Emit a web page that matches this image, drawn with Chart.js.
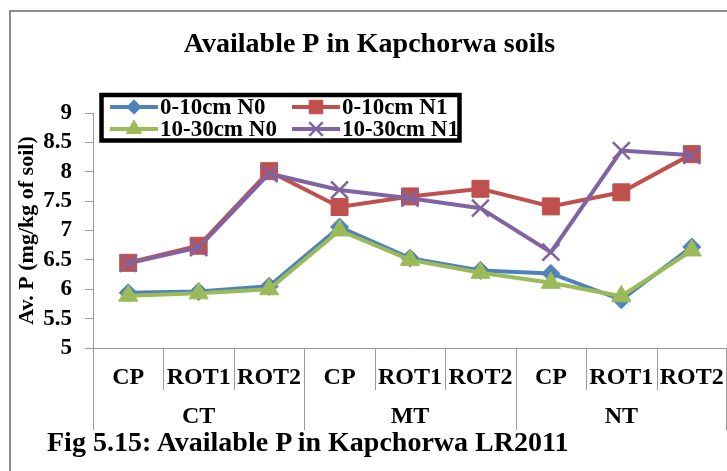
<!DOCTYPE html>
<html>
<head>
<meta charset="utf-8">
<script src="https://cdn.jsdelivr.net/npm/chart.js@4.4.0/dist/chart.umd.min.js"></script>
<style>
  html, body { margin: 0; padding: 0; background: #fff; }
  #wrap { position: relative; width: 727px; height: 471px; overflow: hidden; }
  #frameTop { position: absolute; left: 9px; top: 10px; width: 718px; height: 2px; background: #8c8c8c; }
  #frameLeft { position: absolute; left: 9px; top: 10px; width: 2px; height: 461px; background: #8c8c8c; }
  #caption { position: absolute; left: 47px; top: 428px; font: bold 28px 'Liberation Serif', 'Times New Roman', serif; line-height: 27px; color: #000; white-space: nowrap; }
</style>
</head>
<body>
<div id="wrap">
  <canvas id="myChart" width="727" height="471"></canvas>
  <div id="frameTop"></div>
  <div id="frameLeft"></div>
  <div id="caption">Fig 5.15: Available P in Kapchorwa LR2011</div>
</div>
<script>
// categories (crop system) and their tillage groups
const categories = ['CP', 'ROT1', 'ROT2', 'CP', 'ROT1', 'ROT2', 'CP', 'ROT1', 'ROT2'];
const tillage = ['CT', 'MT', 'NT'];

// Av. P values
const top0N0 = [5.94, 5.96, 6.05, 7.06, 6.53, 6.32, 6.27, 5.82, 6.72];   // 0-10cm N0
const top0N1 = [6.45, 6.74, 8.01, 7.40, 7.58, 7.71, 7.41, 7.65, 8.30];   // 0-10cm N1
const sub10N0 = [5.89, 5.93, 6.00, 7.00, 6.50, 6.28, 6.11, 5.88, 6.66];  // 10-30cm N0
const sub10N1 = [6.44, 6.71, 7.97, 7.69, 7.55, 7.38, 6.63, 8.36, 8.28];  // 10-30cm N1

const yMin = 5;
const yMax = 9;
const yStep = 0.5;

const FONT = "'Liberation Serif', 'Times New Roman', serif";
const AXIS_GREY = '#9a9a9a';

// legend (2 columns, thick black frame) + multi-level category separators
const extrasPlugin = {
  id: 'extras',
  afterDraw(chart) {
    const { ctx, chartArea, scales: { x } } = chart;
    const band = (chartArea.right - chartArea.left) / categories.length;
    const bottom = chartArea.bottom;

    ctx.save();
    ctx.strokeStyle = AXIS_GREY;
    ctx.lineWidth = 1;
    for (let i = 0; i <= categories.length; i++) {
      let px = i < categories.length ? x.getPixelForValue(i) - band / 2 : chartArea.right;
      px = Math.min(Math.round(px) + 0.5, chartArea.right - 0.5);
      const isGroupEdge = i % 3 === 0;
      ctx.beginPath();
      ctx.moveTo(px, bottom);
      ctx.lineTo(px, bottom + (isGroupEdge ? 82 : 42));
      ctx.stroke();
    }

    ctx.fillStyle = '#000';
    ctx.font = 'bold 24px ' + FONT;
    ctx.textAlign = 'center';
    ctx.textBaseline = 'middle';
    tillage.forEach((g, gi) => {
      const cx = (x.getPixelForValue(gi * 3) + x.getPixelForValue(gi * 3 + 2)) / 2;
      ctx.fillText(g, cx, bottom + 69);
    });

    // legend
    ctx.lineWidth = 4.5;
    ctx.strokeStyle = '#000';
    ctx.strokeRect(101.5, 95, 358, 45.5);

    const cols = [110, 292];
    const rows = [107, 129];
    chart.data.datasets.forEach((ds, i) => {
      const lx = cols[i % 2];
      const ly = rows[Math.floor(i / 2)];
      ctx.strokeStyle = ds.borderColor;
      ctx.lineWidth = ds.borderWidth;
      ctx.beginPath();
      ctx.moveTo(lx, ly);
      ctx.lineTo(lx + 48, ly);
      ctx.stroke();
      ctx.fillStyle = ds.pointBackgroundColor;
      ctx.strokeStyle = ds.pointBorderColor;
      ctx.lineWidth = ds.pointBorderWidth;
      Chart.helpers.drawPoint(ctx, {
        pointStyle: ds.pointStyle,
        radius: ds.pointRadius * 0.8,
        borderWidth: ds.pointBorderWidth,
        rotation: 0
      }, lx + 24, ly);
      ctx.fillStyle = '#000';
      ctx.font = 'bold 23px ' + FONT;
      ctx.textAlign = 'left';
      ctx.textBaseline = 'middle';
      ctx.fillText(ds.label, lx + 50, ly + 1);
    });
    ctx.restore();
  }
};

const makeSeries = (label, values, color, style, radius, order, bw) => ({
  label: label,
  data: values,
  borderColor: color,
  backgroundColor: color,
  borderWidth: 4,
  pointStyle: style,
  pointRadius: radius,
  pointBackgroundColor: color,
  pointBorderColor: color,
  pointBorderWidth: bw,
  tension: 0,
  order: order
});

const ctx = document.getElementById('myChart').getContext('2d');
const myChart = new Chart(ctx, {
  type: 'line',
  data: {
    labels: categories,
    datasets: [
      makeSeries('0-10cm N0', top0N0, '#4F81BD', 'rectRot', 9, 4, 1),
      makeSeries('0-10cm N1', top0N1, '#C0504D', 'rect', 12, 3, 1),
      makeSeries('10-30cm N0', sub10N0, '#9BBB59', 'triangle', 11, 2, 1),
      makeSeries('10-30cm N1', sub10N1, '#8064A2', 'crossRot', 12, 1, 2.5)
    ]
  },
  options: {
    responsive: false,
    animation: false,
    layout: { autoPadding: false, padding: { left: 12, right: 0, top: 0, bottom: 0 } },
    plugins: {
      legend: { display: false },
      tooltip: { enabled: false },
      title: {
        display: true,
        text: 'Available P in Kapchorwa soils',
        color: '#000',
        font: { family: FONT, size: 28, weight: 'bold' },
        padding: { top: 28, bottom: 51.4 }
      }
    },
    scales: {
      x: {
        offset: true,
        grid: { display: false },
        border: { color: AXIS_GREY },
        ticks: {
          color: '#000',
          font: { family: FONT, size: 24, weight: 'bold' },
          padding: 7,
          autoSkip: false,
          maxRotation: 0
        },
        afterFit: (s) => {
          s.height = 123;
          s.paddingLeft = 0;
          s.paddingRight = 0;
        }
      },
      y: {
        min: yMin,
        max: yMax,
        ticks: {
          stepSize: yStep,
          autoSkip: false,
          color: '#000',
          font: { family: FONT, size: 23, weight: 'bold' },
          padding: 13,
          callback: (v) => String(v)
        },
        grid: { drawOnChartArea: false, tickLength: 8, color: AXIS_GREY },
        border: { color: AXIS_GREY },
        title: {
          display: true,
          text: 'Av. P (mg/kg of soil)',
          color: '#000',
          font: { family: FONT, size: 22, weight: 'bold' },
          padding: { top: 2, bottom: 0 }
        },
        afterFit: (s) => { s.width = 81; }
      }
    }
  },
  plugins: [extrasPlugin]
});
</script>
</body>
</html>
